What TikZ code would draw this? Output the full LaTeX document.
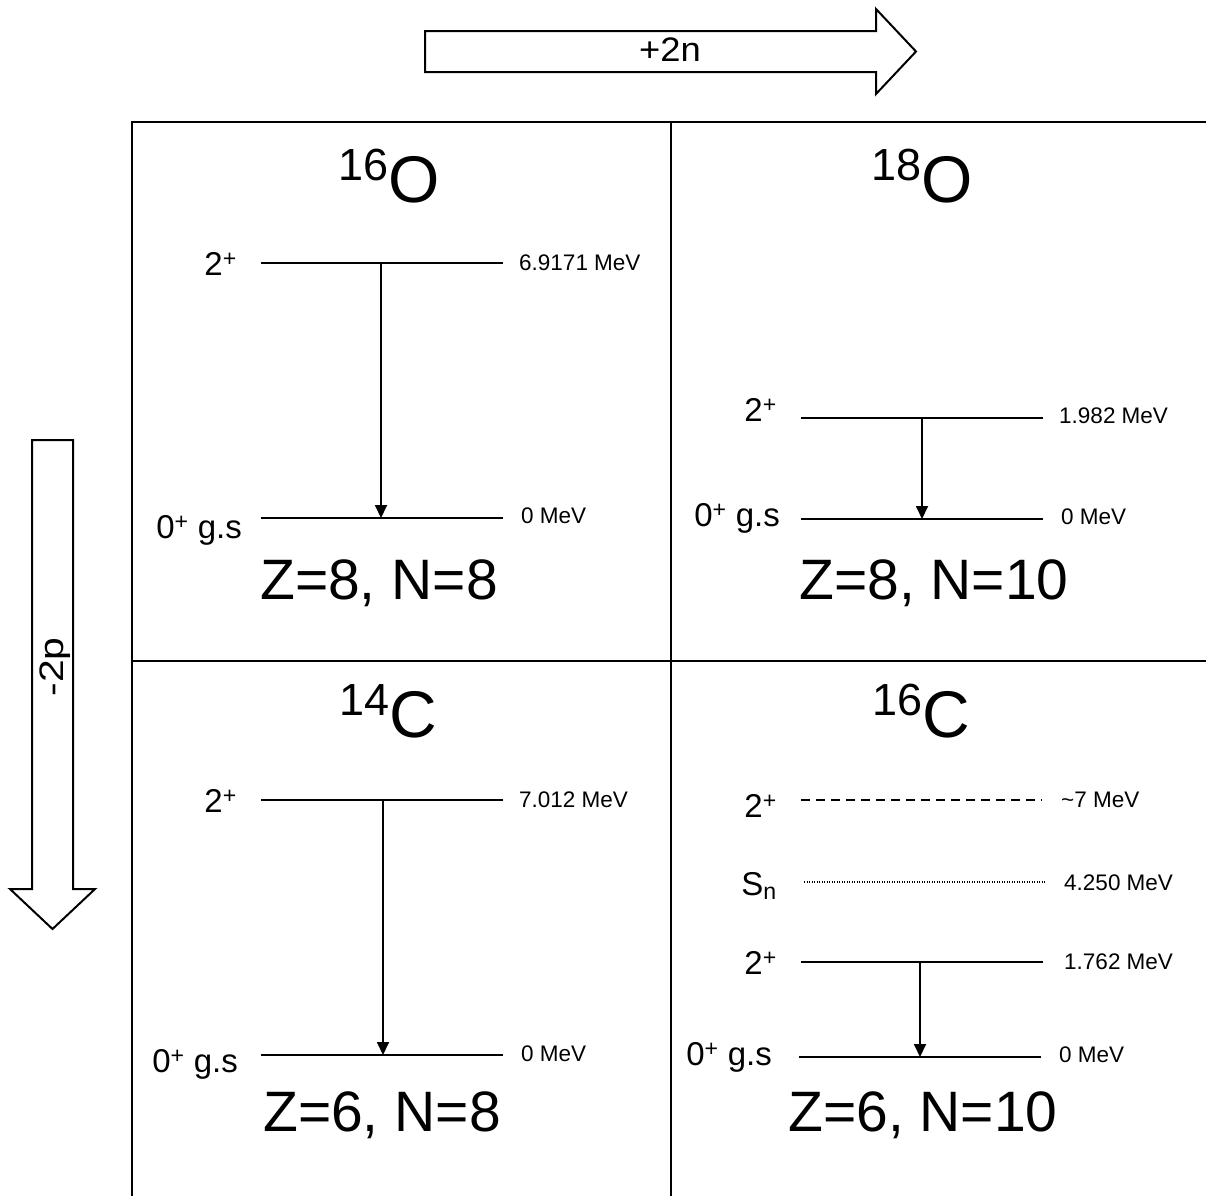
\documentclass[tikz,border=0pt]{standalone}
\usepackage{fontspec}
\setmainfont{Liberation Sans}
\usetikzlibrary{arrows.meta}
\newcommand\isotope[2]{\raisebox{22pt}{\fontsize{45}{45}\selectfont #1}\fontsize{66}{66}\selectfont #2}
\tikzset{
  grid/.style={line width=2.4pt, line cap=rect},
  level/.style={line width=2pt},
  trans/.style={line width=1.8pt, -{Triangle[width=12pt,length=13pt]}},
  bigarrow/.style={line width=2pt, fill=white, line join=miter},
  lvlab/.style={inner sep=0pt, font=\fontsize{33}{33}\selectfont},
  enlab/.style={inner sep=0pt, anchor=west, font=\fontsize{22.5}{22.5}\selectfont},
  title/.style={inner sep=0pt, anchor=base},
  zn/.style={inner sep=0pt, anchor=base, font=\fontsize{57}{57}\selectfont},
  arrlab/.style={inner sep=0pt, font=\fontsize{34}{34}\selectfont}
}
\begin{document}
\begin{tikzpicture}[x=1pt,y=-1pt]
\useasboundingbox (0,0) rectangle (1206,1195);
% big arrows
\draw[bigarrow] (425,31) -- (876,31) -- (876,9) -- (916,51.5) -- (876,94) -- (876,72) -- (425,72) -- cycle;
\node[arrlab] (plus2n) at (670,50) {\scalebox{1.07}[1]{+2n}};
\draw[bigarrow] (32,440) -- (73,440) -- (73,889) -- (95,889) -- (52.5,929) -- (10,889) -- (32,889) -- cycle;
\node[arrlab, rotate=90] (minus2p) at (55,667) {\scalebox{1.2}[1]{-2p}};
% grid
\coordinate (g1) at (132,122); \coordinate (g2) at (132,1196);
\coordinate (g3) at (671,122); \coordinate (g4) at (671,1196);
\coordinate (g5) at (132,122); \coordinate (g6) at (1207,122);
\coordinate (g7) at (132,661); \coordinate (g8) at (1207,661);
\draw[grid] (g1) -- (g2);
\draw[grid] (g3) -- (g4);
\draw[grid] (g5) -- (g6);
\draw[grid] (g7) -- (g8);
% ---------- 16O ----------
\node[title] (t16O) at (389,202) {\isotope{16}{O}};
\coordinate (a2L) at (261,263); \coordinate (a2R) at (503,263);
\coordinate (a0L) at (261,518); \coordinate (a0R) at (503,518);
\coordinate (a2m) at (381,263); \coordinate (a0m) at (381,518);
\draw[level] (a2L) -- (a2R);
\draw[level] (a0L) -- (a0R);
\draw[trans] (a2m) -- (a0m);
\node[lvlab, anchor=east] (a2lab) at (237,264) {2\textsuperscript{+}};
\node[lvlab, anchor=east] (a0lab) at (242,530) {0\textsuperscript{+} g.s};
\node[enlab] (a2en) at (519,263) {6.9171 MeV};
\node[enlab] (a0en) at (521,516) {0 MeV};
\node[zn] (a-zn) at (379,599) {Z=8, N=8};
% ---------- 18O ----------
\node[title] (t18O) at (922,202) {\isotope{18}{O}};
\coordinate (b2L) at (801,418); \coordinate (b2R) at (1043,418);
\coordinate (b0L) at (801,519); \coordinate (b0R) at (1043,519);
\coordinate (b2m) at (922,418); \coordinate (b0m) at (922,519);
\draw[level] (b2L) -- (b2R);
\draw[level] (b0L) -- (b0R);
\draw[trans] (b2m) -- (b0m);
\node[lvlab, anchor=east] (b2lab) at (777,410) {2\textsuperscript{+}};
\node[lvlab, anchor=east] (b0lab) at (780,518) {0\textsuperscript{+} g.s};
\node[enlab] (b2en) at (1059,416) {1.982 MeV};
\node[enlab] (b0en) at (1061,517) {0 MeV};
\node[zn] (b-zn) at (934,599) {Z=8, N=10};
% ---------- 14C ----------
\node[title] (t14C) at (388,737) {\isotope{14}{C}};
\coordinate (c2L) at (261,800); \coordinate (c2R) at (503,800);
\coordinate (c0L) at (261,1055); \coordinate (c0R) at (503,1055);
\coordinate (c2m) at (383,800); \coordinate (c0m) at (383,1055);
\draw[level] (c2L) -- (c2R);
\draw[level] (c0L) -- (c0R);
\draw[trans] (c2m) -- (c0m);
\node[lvlab, anchor=east] (c2lab) at (237,801) {2\textsuperscript{+}};
\node[lvlab, anchor=east] (c0lab) at (238,1064) {0\textsuperscript{+} g.s};
\node[enlab] (c2en) at (519,800) {7.012 MeV};
\node[enlab] (c0en) at (521,1054) {0 MeV};
\node[zn] (c-zn) at (382,1131) {Z=6, N=8};
% ---------- 16C ----------
\node[title] (t16C) at (921,737) {\isotope{16}{C}};
\coordinate (d3L) at (801,800); \coordinate (d3R) at (1042,800);
\coordinate (dsL) at (804,882); \coordinate (dsR) at (1045,882);
\coordinate (d2L) at (801,962); \coordinate (d2R) at (1043,962);
\coordinate (d0L) at (799,1057); \coordinate (d0R) at (1041,1057);
\coordinate (d2m) at (920,962); \coordinate (d0m) at (920,1057);
\draw[level, dash pattern=on 9pt off 6pt] (d3L) -- (d3R);
\draw[line width=1.3pt, dash pattern=on 1.2pt off 1.3pt] (dsL) -- (dsR);
\draw[level] (d2L) -- (d2R);
\draw[level] (d0L) -- (d0R);
\draw[trans] (d2m) -- (d0m);
\node[lvlab, anchor=east] (d3lab) at (777,806) {2\textsuperscript{+}};
\node[lvlab, anchor=east] (dslab) at (777,886) {S\textsubscript{n}};
\node[lvlab, anchor=east] (d2lab) at (777,963) {2\textsuperscript{+}};
\node[lvlab, anchor=east] (d0lab) at (772,1057) {0\textsuperscript{+} g.s};
\node[enlab] (d3en) at (1061,800) {\textasciitilde 7 MeV};
\node[enlab] (dsen) at (1064,883) {4.250 MeV};
\node[enlab] (d2en) at (1064,962) {1.762 MeV};
\node[enlab] (d0en) at (1059,1055) {0 MeV};
\node[zn] (d-zn) at (923,1131) {Z=6, N=10};
\end{tikzpicture}
\end{document}
